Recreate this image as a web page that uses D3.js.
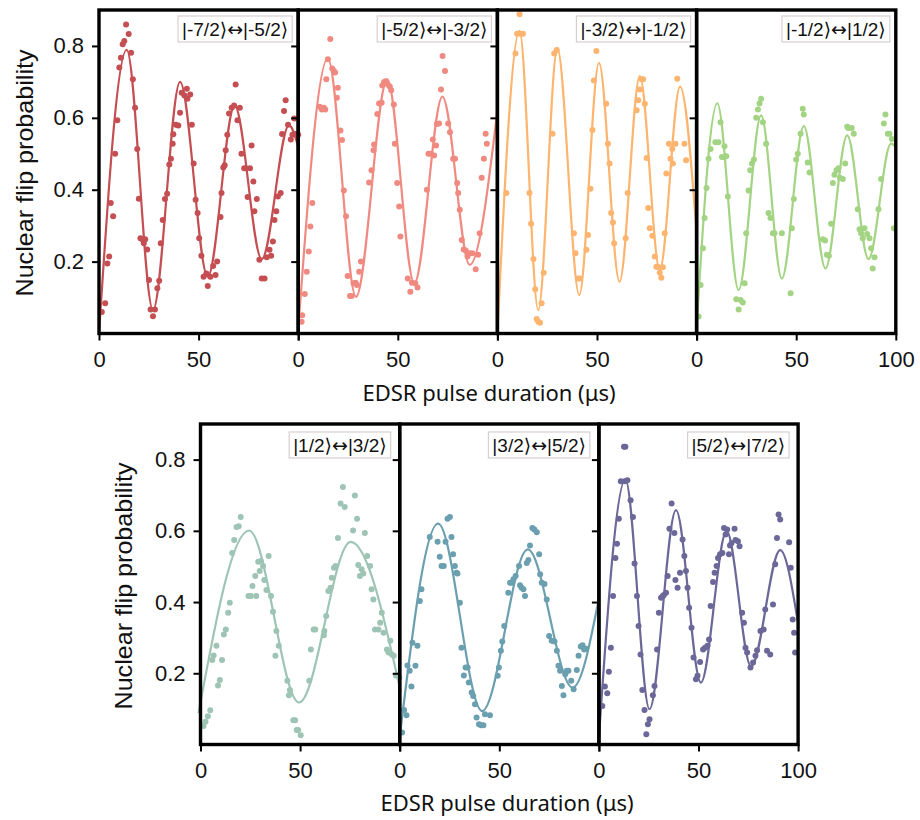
<!DOCTYPE html>
<html>
<head>
<meta charset="utf-8">
<script src="https://d3js.org/d3.v7.min.js"></script>
<style>
  body { margin: 0; background: #fff; }
  .tick text { font-family: "Liberation Sans", Arial, sans-serif; font-size: 22px; fill: #111; }
  .tick line { stroke: #000; stroke-width: 2; }
  .legend text { font-family: "Liberation Sans", Arial, sans-serif; font-size: 19px; fill: #111; }
  .legend .sym { font-family: "DejaVu Sans", sans-serif; }
  .ylab { font-family: "Liberation Sans", Arial, sans-serif; font-size: 24px; fill: #111; }
  .xlab { font-family: "Noto Sans", "Open Sans", sans-serif; font-size: 22px; fill: #111; }
</style>
</head>
<body>
<svg id="chart" width="920" height="820"></svg>
<script>
// transition labels and colours, one per panel
const labels = [
  "|-7/2⟩↔|-5/2⟩", "|-5/2⟩↔|-3/2⟩", "|-3/2⟩↔|-1/2⟩", "|-1/2⟩↔|1/2⟩",
  "|1/2⟩↔|3/2⟩", "|3/2⟩↔|5/2⟩", "|5/2⟩↔|7/2⟩"
];
const colors = ["#c44e52", "#f08a80", "#fdb46e", "#a3d483", "#9dc4b5", "#6a9fb0", "#6b6798"];

const xTicks = [0, 50, 100];
const yTicks = [0.2, 0.4, 0.6, 0.8];

// measured points [pulse duration (us), flip probability]
const dots1 = [[1.4,.06],[3.1,.084],[4.2,.195],[5.1,.214],[5.9,.363],[7.1,.326],[8.1,.50],[9.2,.593],[10.2,.74],[11.0,.767],[11.9,.805],[12.7,.814],[13.6,.86],[14.9,.833],[16.1,.781],[17.0,.707],[18.1,.628],[19.2,.513],[20.0,.375],[20.8,.265],[21.7,.262],[22.5,.251],[23.2,.262],[24.2,.234],[25.1,.149],[25.9,.067],[27.1,.048],[28.1,.067],[29.3,.126],[30.2,.147],[31.0,.251],[32.0,.316],[33.1,.374],[34.2,.389],[35.3,.47],[36.1,.486],[37.0,.528],[37.3,.554],[38.6,.581],[39.8,.579],[40.7,.614],[41.5,.67],[42.9,.662],[44.1,.681],[44.4,.653],[45.8,.665],[46.6,.581],[47.5,.473],[48.5,.372],[49.5,.335],[50.3,.265],[51.4,.216],[52.5,.158],[53.9,.167],[54.6,.132],[55.9,.158],[57.3,.188],[58.5,.163],[59.3,.2],[61.0,.324],[61.5,.391],[62.4,.462],[63.1,.468],[63.6,.51],[64.4,.553],[65.3,.612],[66.6,.628],[67.8,.634],[68.6,.693],[69.5,.593],[70.7,.628],[71.5,.50],[72.9,.46],[73.7,.46],[74.6,.38],[75.8,.46],[76.6,.523],[77.5,.423],[78.0,.34],[79.2,.374],[80.5,.205],[81.7,.153],[83.1,.153],[84.2,.212],[85.6,.233],[86.4,.216],[87.3,.256],[88.1,.316],[89.0,.34],[89.8,.381],[91.2,.391],[91.9,.555],[92.9,.619],[93.7,.649],[94.9,.581],[96.3,.54],[97.1,.553],[98.0,.598],[98.6,.555],[100,.553]];
const dots2 = [[1.7,.033],[2.0,.051],[3.3,.11],[4.3,.172],[5.3,.228],[6.1,.298],[7.1,.363],[10.8,.631],[11.9,.623],[12.9,.628],[13.6,.623],[14.1,.707],[14.9,.763],[16.1,.819],[17.1,.737],[17.9,.73],[18.5,.726],[19.9,.684],[19.4,.656],[21.2,.565],[22.0,.538],[22.9,.398],[24.0,.326],[24.8,.16],[26.0,.104],[26.8,.104],[27.8,.14],[28.8,.141],[29.5,.135],[30.6,.172],[31.5,.2],[35.6,.42],[36.8,.454],[37.8,.51],[38.1,.526],[39.7,.611],[40.6,.64],[41.9,.642],[42.2,.69],[43.1,.70],[43.9,.702],[45.0,.693],[46.0,.687],[46.7,.677],[48.0,.637],[48.5,.528],[49.7,.419],[50.7,.353],[51.3,.27],[55.0,.153],[56.3,.116],[57.1,.141],[58.8,.14],[59.9,.128],[64.6,.40],[65.4,.50],[66.6,.50],[67.6,.54],[68.2,.495],[69.2,.523],[69.6,.583],[70.7,.584],[71.7,.679],[72.5,.772],[73.7,.73],[75.3,.584],[76.2,.56],[77.8,.486],[78.7,.486],[79.8,.419],[80.3,.391],[81.1,.344],[82.1,.26],[83.1,.234],[84.1,.231],[85.0,.214],[86.1,.223],[87.4,.223],[89.1,.179],[90.3,.219],[91.1,.279],[92.1,.433],[93.2,.486],[94.1,.556],[94.7,.528]];
const dots3 = [[4.5,.391],[9.1,.779],[9.9,.834],[11.1,.888],[11.6,.834],[12.8,.834],[16.1,.391],[16.9,.305],[18.1,.207],[19.0,.123],[19.7,.04],[20.5,.033],[21.4,.03],[22.2,.084],[23.2,.169],[27.7,.556],[28.5,.779],[29.8,.789],[38.4,.279],[39.2,.223],[40.4,.153],[41.4,.153],[44.7,.233],[45.5,.274],[46.7,.403],[47.7,.566],[48.4,.704],[49.7,.786],[54.6,.639],[55.5,.528],[56.3,.473],[57.1,.335],[58.0,.309],[58.6,.251],[64.4,.265],[65.4,.391],[69.9,.621],[70.7,.649],[71.5,.679],[72.4,.707],[73.2,.707],[74.0,.639],[74.9,.488],[75.7,.349],[76.5,.293],[77.8,.272],[79.0,.214],[79.8,.186],[80.6,.186],[81.5,.169],[82.3,.155],[83.1,.184],[84.0,.279],[84.8,.445],[86.1,.528],[86.9,.486],[87.8,.513],[88.1,.473],[89.4,.528],[90.3,.709],[93.9,.528],[94.7,.482]];
const dots4 = [[1.0,.047],[2.0,.135],[3.2,.237],[4.0,.321],[5.0,.405],[6.0,.486],[7.0,.513],[9.4,.532],[11.0,.532],[12.0,.588],[12.7,.491],[13.7,.491],[14.9,.493],[14.0,.521],[15.7,.381],[19.9,.095],[21.1,.067],[22.1,.093],[23.2,.086],[24.1,.14],[24.9,.279],[26.1,.398],[26.9,.454],[27.8,.473],[28.8,.484],[29.9,.60],[30.8,.623],[31.6,.64],[32.4,.653],[33.3,.588],[34.9,.528],[36.1,.335],[37.1,.321],[38.3,.279],[39.1,.279],[42.8,.279],[47.2,.112],[47.8,.293],[48.8,.374],[50.0,.484],[50.8,.50],[52.2,.556],[53.3,.625],[53.8,.609],[55.8,.476],[56.7,.448],[63.4,.262],[64.5,.259],[65.4,.219],[66.4,.216],[67.5,.305],[68.4,.419],[69.2,.442],[70.2,.454],[71.2,.46],[71.9,.433],[73.4,.43],[74.6,.473],[75.6,.575],[76.2,.572],[77.9,.572],[78.9,.556],[80.9,.346],[81.8,.29],[82.6,.279],[83.4,.265],[84.3,.293],[85.6,.277],[86.8,.265],[87.6,.237],[88.4,.181],[89.3,.212],[91.3,.346],[92.6,.43],[94.0,.584],[94.8,.609],[96.0,.556],[96.8,.556],[98.0,.541],[99.0,.293]];
const dots5 = [[1.5,.052],[2.5,.064],[3.7,.079],[4.9,.096],[5.9,.237],[6.6,.25],[8.0,.277],[8.8,.166],[9.7,.181],[10.8,.237],[11.7,.309],[12.7,.323],[13.9,.37],[14.7,.398],[15.9,.538],[16.9,.574],[18.1,.611],[19.2,.613],[20.2,.639],[24.1,.417],[25.3,.417],[26.1,.445],[27.5,.473],[28.0,.417],[29.0,.513],[29.7,.487],[30.3,.515],[31.4,.501],[32.0,.462],[33.1,.434],[34.2,.529],[35.4,.417],[36.4,.373],[38.1,.319],[39.3,.277],[37.6,.249],[43.6,.179],[44.4,.138],[44.9,.153],[46.6,.068],[47.5,.068],[48.3,.041],[49.0,.041],[50.3,.026],[54.6,.179],[55.4,.267],[56.8,.323],[57.6,.323],[61.9,.307],[62.2,.319],[63.1,.361],[64.2,.431],[65.3,.44],[65.9,.468],[67.0,.496],[67.8,.501],[69.0,.58],[70.3,.677],[71.5,.723],[72.4,.667],[77.5,.699],[76.6,.601],[78.6,.634],[82.5,.594],[79.2,.504],[80.9,.492],[80.0,.473],[81.7,.48],[83.7,.529],[85.1,.501],[85.9,.436],[86.8,.407],[87.6,.323],[89.3,.323],[91.0,.37],[90.2,.342],[91.9,.314],[93.6,.267],[94.4,.258],[95.3,.291],[96.1,.253],[97.0,.249],[98.1,.194],[99.8,.188]];
const dots6 = [[1.2,.034],[2.2,.097],[3.4,.082],[3.9,.222],[5.0,.207],[5.9,.163],[6.4,.286],[7.9,.221],[8.9,.277],[10.1,.403],[10.9,.436],[15.1,.583],[19.0,.569],[20.1,.527],[21.0,.501],[22.1,.501],[23.0,.569],[24.0,.634],[25.2,.639],[26.0,.583],[26.8,.534],[27.7,.501],[28.5,.482],[29.0,.48],[30.2,.398],[31.0,.272],[32.2,.194],[33.1,.216],[34.1,.216],[34.7,.174],[36.1,.146],[36.9,.136],[37.8,.113],[38.6,.076],[39.8,.057],[40.8,.054],[42.0,.054],[42.8,.085],[45.3,.082],[49.2,.193],[49.8,.216],[50.8,.263],[51.5,.289],[52.5,.333],[54.5,.426],[55.4,.454],[56.5,.454],[57.1,.464],[58.2,.473],[59.9,.501],[60.4,.447],[61.2,.44],[62.1,.436],[62.9,.417],[63.8,.51],[64.6,.518],[65.4,.559],[66.6,.608],[67.6,.604],[68.8,.596],[70.0,.534],[70.5,.478],[71.3,.454],[72.7,.451],[73.8,.407],[75.0,.305],[76.3,.291],[77.7,.289],[78.9,.263],[79.7,.221],[80.5,.207],[81.4,.164],[82.2,.138],[83.1,.197],[83.9,.207],[84.7,.207],[86.1,.179],[87.3,.155],[88.9,.209],[89.8,.249],[90.9,.275],[91.8,.279],[92.6,.267],[93.6,.269]];
const dots7 = [[1.7,.108],[3.0,.163],[4.2,.144],[5.0,.204],[6.0,.272],[7.1,.417],[8.3,.524],[9.1,.564],[10.0,.634],[11.0,.739],[12.6,.836],[13.3,.836],[13.0,.739],[14.3,.742],[15.9,.686],[17.1,.639],[17.9,.508],[19.1,.417],[19.9,.333],[20.9,.253],[21.8,.153],[22.9,.097],[23.8,.029],[24.6,.057],[25.4,.071],[27.1,.138],[27.9,.164],[29.2,.267],[30.1,.37],[31.2,.412],[32.1,.417],[32.6,.42],[33.7,.426],[34.5,.473],[35.4,.606],[36.5,.677],[37.9,.594],[38.4,.462],[39.5,.44],[40.7,.482],[42.0,.576],[42.9,.529],[43.7,.487],[44.5,.44],[45.3,.384],[46.5,.328],[47.5,.244],[48.7,.183],[49.5,.193],[50.8,.232],[52.3,.267],[53.3,.272],[54.5,.277],[55.3,.295],[56.1,.389],[57.3,.456],[58.1,.482],[59.1,.501],[59.8,.524],[60.8,.534],[62.0,.538],[62.8,.608],[63.6,.59],[64.4,.604],[65.8,.559],[65.3,.534],[66.6,.566],[68.1,.606],[68.6,.574],[69.8,.571],[70.6,.557],[71.9,.37],[72.8,.342],[73.6,.272],[74.4,.258],[76.1,.216],[77.4,.23],[78.6,.249],[79.4,.265],[81.1,.319],[82.7,.323],[83.5,.379],[84.4,.263],[86.0,.253],[87.4,.393],[88.5,.506],[89.4,.58],[90.2,.646],[91.0,.632],[95.5,.568],[96.3,.496],[97.3,.351],[98.0,.314],[98.5,.258]];

// fitted curves, read as their turning points (smoothed by d3.curveMonotoneX)
const fit1 = [[0,0],[13.9,.789],[27.1,.065],[40.7,.70],[54.6,.158],[68.1,.634],[81.7,.207],[95.4,.579],[100,.52]];
const fit2 = [[0,.01],[14.9,.765],[29.0,.102],[44.7,.707],[58.3,.14],[72.4,.659],[86.1,.191],[100,.62]];
const fit3 = [[0,0],[11.1,.842],[20.5,.065],[30.1,.793],[41.1,.107],[51.0,.753],[61.3,.144],[71.5,.716],[81.5,.177],[91.7,.687],[100,.28]];
const fit4 = [[0,.02],[10.4,.64],[21.1,.121],[32.4,.607],[42.8,.153],[53.8,.577],[64.7,.181],[75.6,.551],[86.3,.207],[97.6,.528],[100,.52]];
const fit5 = [[-1,.088],[24.4,.601],[49.5,.118],[75.4,.569],[100.5,.148]];
const fit6 = [[0,.02],[19.3,.62],[41.4,.094],[64.3,.548],[86.8,.16],[100,.41]];
const fit7 = [[0,.02],[13.3,.744],[25.4,.099],[38.7,.658],[51.2,.174],[64.1,.599],[76.4,.219],[91.0,.546],[100,.34]];

const dots = [dots1, dots2, dots3, dots4, dots5, dots6, dots7];
const fits = [fit1, fit2, fit3, fit4, fit5, fit6, fit7];

// layout
const panelW = 199.2;
const rows = [
  { x0: 99, top: 10, bottom: 333.5, n: 4, first: 0, legDx: 6, legDy: 6, titleX: 489, titleY: 401, ylabX: 33, ylabY: 173 },
  { x0: 200.5, top: 424, bottom: 744.5, n: 3, first: 4, legDx: 9, legDy: 8, titleX: 507, titleY: 811, ylabX: 132, ylabY: 586 }
];

const svg = d3.select("#chart");
const line = d3.line().curve(d3.curveMonotoneX);

// legend text: ket brackets and arrow drawn in DejaVu
function legendText(txt, label) {
  for (const ch of label) {
    const t = txt.append("tspan").text(ch);
    if (ch === "⟩" || ch === "↔") t.attr("class", "sym");
  }
}

rows.forEach((row) => {
  const y = d3.scaleLinear().domain([0, 0.9]).range([row.bottom, row.top]);
  const x = d3.scaleLinear().domain([0, 100]).range([0, panelW]);
  line.y((d) => y(d[1])).x((d) => x(d[0]));

  for (let c = 0; c < row.n; c++) {
    const i = row.first + c;
    const g = svg.append("g").attr("transform", `translate(${row.x0 + c * panelW},0)`);

    g.append("path")
      .attr("d", line(fits[i]))
      .attr("fill", "none")
      .attr("stroke", colors[i])
      .attr("stroke-width", 2.2);

    g.selectAll("circle")
      .data(dots[i])
      .join("circle")
      .attr("cx", (d) => x(d[0]))
      .attr("cy", (d) => y(d[1]))
      .attr("r", 3)
      .attr("fill", colors[i]);
  }

  // frames, axes and legends on top of the data
  for (let c = 0; c < row.n; c++) {
    const i = row.first + c;
    const g = svg.append("g").attr("transform", `translate(${row.x0 + c * panelW},0)`);

    const yAxis = d3.axisLeft(y).tickValues(yTicks).tickSize(7).tickPadding(8)
      .tickFormat(c === 0 ? d3.format(".1f") : () => "");
    g.append("g").call(yAxis).call((a) => a.select(".domain").remove());

    const last = c === row.n - 1;
    const xAxis = d3.axisBottom(x).tickValues(xTicks).tickSize(7).tickPadding(11)
      .tickFormat((d) => (d === 100 && !last ? "" : d));
    g.append("g").attr("transform", `translate(0,${row.bottom})`)
      .call(xAxis).call((a) => a.select(".domain").remove());

    g.append("rect")
      .attr("x", 0).attr("y", row.top)
      .attr("width", panelW).attr("height", row.bottom - row.top)
      .attr("fill", "none").attr("stroke", "#000").attr("stroke-width", 3.4);

    const leg = g.append("g").attr("class", "legend");
    const box = leg.append("rect");
    const txt = leg.append("text")
      .attr("x", panelW - row.legDx - 4)
      .attr("y", row.top + row.legDy + 20)
      .attr("text-anchor", "end");
    legendText(txt, labels[i]);
    const bb = txt.node().getBBox();
    box.attr("x", bb.x - 4).attr("y", row.top + row.legDy)
      .attr("width", bb.width + 8).attr("height", 26)
      .attr("fill", "#fff").attr("fill-opacity", 0.85)
      .attr("stroke", "#d9cfcf").attr("stroke-width", 1.2);
  }

  svg.append("text").attr("class", "ylab")
    .attr("transform", `translate(${row.ylabX},${row.ylabY}) rotate(-90)`)
    .attr("text-anchor", "middle")
    .attr("textLength", 247).attr("lengthAdjust", "spacingAndGlyphs")
    .text("Nuclear flip probability");

  svg.append("text").attr("class", "xlab")
    .attr("x", row.titleX).attr("y", row.titleY)
    .attr("text-anchor", "middle")
    .text("EDSR pulse duration (μs)");
});
</script>
</body>
</html>
